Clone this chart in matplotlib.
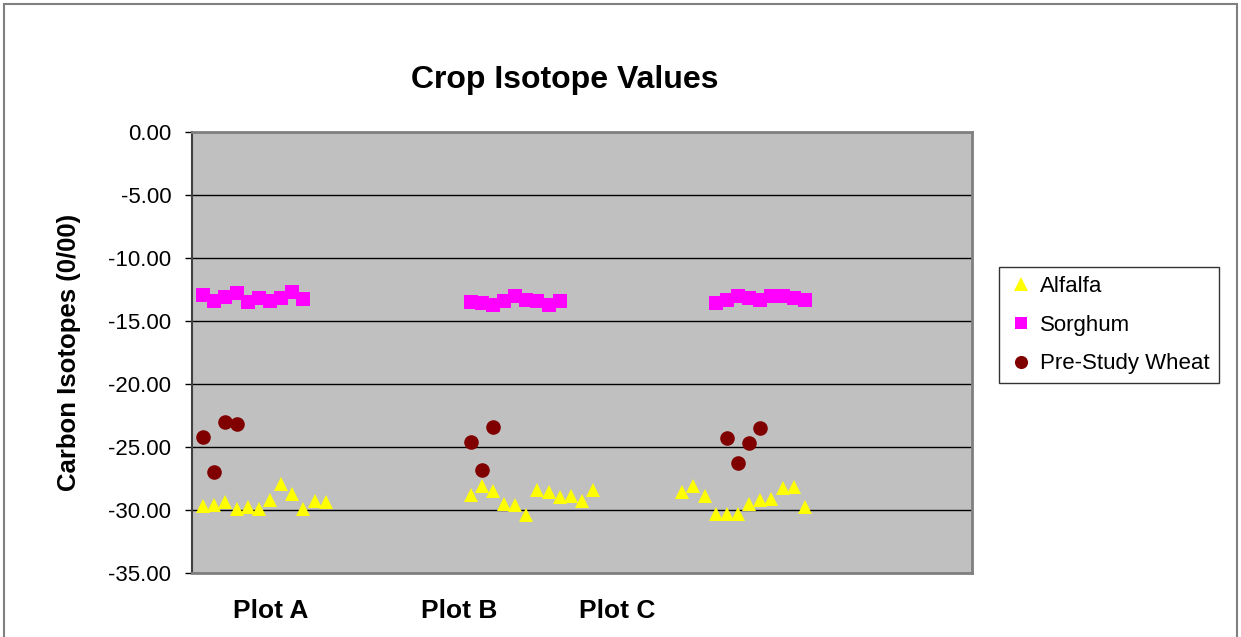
import matplotlib.pyplot as plt
from matplotlib.patches import Rectangle

plt.rcParams["font.family"] = ["Liberation Sans", "DejaVu Sans"]

# sample index along the x axis (0..70 scale), values in per mil
alfalfa_x = list(range(1, 13)) + list(range(25, 37)) + list(range(44, 56))
alfalfa_y = [
    -29.7, -29.6, -29.4, -29.9, -29.8, -29.9, -29.2, -27.9, -28.7, -29.9, -29.3, -29.4,
    -28.8, -28.1, -28.5, -29.5, -29.6, -30.4, -28.4, -28.6, -29.0, -28.9, -29.3, -28.4,
    -28.6, -28.1, -28.9, -30.3, -30.35, -30.3, -29.5, -29.2, -29.1, -28.25, -28.2, -29.8,
]

sorghum_x = list(range(1, 11)) + list(range(25, 34)) + list(range(47, 56))
sorghum_y = [
    -12.9, -13.4, -13.1, -12.75, -13.5, -13.2, -13.4, -13.15, -12.7, -13.25,
    -13.5, -13.6, -13.7, -13.45, -13.05, -13.3, -13.4, -13.7, -13.45,
    -13.6, -13.3, -13.05, -13.15, -13.3, -13.0, -13.0, -13.15, -13.3,
]

wheat_x = [1, 2, 3, 4, 25, 26, 27, 48, 49, 50, 51]
wheat_y = [-24.2, -27.0, -23.0, -23.2, -24.6, -26.8, -23.4, -24.3, -26.3, -24.7, -23.5]

plot_labels = ["Plot A", "Plot B", "Plot C"]
plot_label_x = [7.1, 24.0, 38.2]


def main():
    fig = plt.figure(figsize=(12.41, 6.37), dpi=100)
    fig.patches.append(Rectangle((0.003, -0.01), 0.994, 1.003, transform=fig.transFigure,
                                 fill=False, edgecolor="#808080", linewidth=1.5))

    ax = fig.add_axes([0.1547, 0.1005, 0.6285, 0.6923])
    ax.set_facecolor("#C0C0C0")

    ax.plot(alfalfa_x, alfalfa_y, linestyle="none", marker="^", markersize=10.5,
            color="#FFFF00", markeredgewidth=0, label="Alfalfa", zorder=3)
    ax.plot(sorghum_x, sorghum_y, linestyle="none", marker="s", markersize=10,
            color="#FF00FF", markeredgewidth=0, label="Sorghum", zorder=3)
    ax.plot(wheat_x, wheat_y, linestyle="none", marker="o", markersize=10.5,
            color="#800000", markeredgewidth=0, label="Pre-Study Wheat", zorder=3)

    ax.set_xlim(0, 70)
    ax.set_ylim(-35, 0)
    ax.set_yticks(range(-35, 1, 5))
    ax.set_yticklabels([f"{v:.2f}" for v in range(-35, 1, 5)], fontsize=16)
    ax.yaxis.grid(True, color="black", linewidth=1)
    ax.set_axisbelow(True)

    ax.set_xticks(plot_label_x)
    ax.set_xticklabels(plot_labels, fontsize=19, fontweight="bold")
    ax.tick_params(axis="x", length=0, pad=18.5)
    ax.tick_params(axis="y", length=5, width=1, direction="out", pad=10)

    for side in ["top", "right", "bottom"]:
        ax.spines[side].set_color("#808080")
        ax.spines[side].set_linewidth(2)
    ax.spines["left"].set_color("#404040")
    ax.spines["left"].set_linewidth(1.5)

    ax.set_ylabel("Carbon Isotopes (0/00)", fontsize=18.5, fontweight="bold")
    ax.yaxis.set_label_coords(-0.142, 0.5)
    fig.text(0.455, 0.874, "Crop Isotope Values", fontsize=23, fontweight="bold",
             ha="center", va="center")

    leg = fig.legend(loc="upper left", bbox_to_anchor=(0.805, 0.581), fontsize=16,
                     frameon=True, fancybox=False, handletextpad=0.25, handlelength=1.2,
                     borderpad=0.4, labelspacing=0.8, markerscale=0.9, borderaxespad=0)
    leg.get_frame().set_edgecolor("black")
    leg.get_frame().set_linewidth(1)

    fig.savefig("out.png", dpi=100)
    plt.close(fig)


if __name__ == "__main__":
    main()
